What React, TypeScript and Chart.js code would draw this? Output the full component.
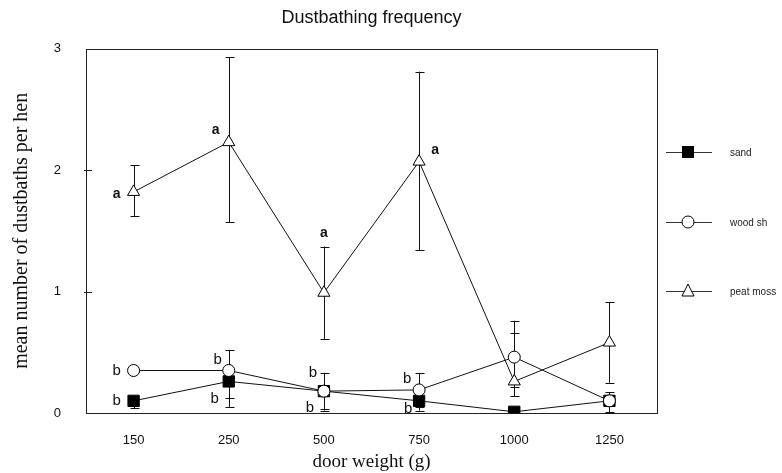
import React, { useEffect, useRef } from 'react';
import { Chart, registerables } from 'chart.js';

Chart.register(...registerables);

const categories = ['150', '250', '500', '750', '1000', '1250'];
const seriesNames = ['sand', 'wood sh', 'peat moss'];

const sand = [0.1, 0.26, 0.18, 0.1, 0.01, 0.1];
const woodSh = [0.35, 0.35, 0.18, 0.19, 0.46, 0.1];
const peatMoss = [1.82, 2.23, 0.99, 2.07, 0.26, 0.58];

const sandHi = [0.12, 0.3, 0.21, 0.13, 0.03, 0.17];
const sandLo = [0.04, 0.12, 0.02, 0.02, 0.0, 0.01];
const woodHi = [0.36, 0.52, 0.33, 0.33, 0.66, 0.12];
const woodLo = [0.34, 0.05, 0.03, 0.05, 0.21, 0.0];
const peatHi = [2.04, 2.93, 1.37, 2.81, 0.76, 0.91];
const peatLo = [1.62, 1.57, 0.61, 1.34, 0.14, 0.25];

const sandLetters = ['b', 'b', 'b', 'b', '', ''];
const woodLetters = ['b', 'b', 'b', 'b', '', ''];
const peatLetters = ['a', 'a', 'a', 'a', '', ''];

const yTicks = [0, 1, 2, 3];

// label placement offsets (style, not data)
const letterOffsets: Record<string, [number, number][]> = {
  sand: [[-17, 0], [-14, 17], [-14, 17], [-11, 8], [0, 0], [0, 0]],
  wood: [[-17, 0], [-11, -11], [-11, -18], [-12, -11], [0, 0], [0, 0]],
  peat: [[-17, 2], [-13, -12], [0, -60], [16, -11], [0, 0], [0, 0]],
};

function drawMarker(ctx: CanvasRenderingContext2D, kind: string, x: number, y: number) {
  ctx.save();
  ctx.lineWidth = 1;
  ctx.strokeStyle = '#000';
  if (kind === 'rect') {
    ctx.fillStyle = '#000';
    ctx.fillRect(x - 6, y - 6, 12, 12);
  } else if (kind === 'circle') {
    ctx.fillStyle = '#fff';
    ctx.beginPath();
    ctx.arc(x, y, 6, 0, Math.PI * 2);
    ctx.fill();
    ctx.stroke();
  } else {
    ctx.fillStyle = '#fff';
    ctx.beginPath();
    ctx.moveTo(x, y - 7);
    ctx.lineTo(x + 6, y + 5);
    ctx.lineTo(x - 6, y + 5);
    ctx.closePath();
    ctx.fill();
    ctx.stroke();
  }
  ctx.restore();
}

const decorPlugin = {
  id: 'decor',
  beforeDatasetsDraw(chart: any) {
    const { ctx, chartArea, scales } = chart;
    const x = scales.x;
    const y = scales.y;
    ctx.save();
    // frame
    ctx.strokeStyle = '#222';
    ctx.lineWidth = 1;
    ctx.strokeRect(Math.round(chartArea.left) + 0.5, Math.round(chartArea.top) + 0.5,
      Math.round(chartArea.right - chartArea.left), Math.round(chartArea.bottom - chartArea.top));
    // inner y tick marks
    yTicks.forEach((t) => {
      if (t === 0 || t === 3) return;
      const py = Math.round(y.getPixelForValue(t)) + 0.5;
      ctx.beginPath();
      ctx.moveTo(chartArea.left - 2, py);
      ctx.lineTo(chartArea.left + 6, py);
      ctx.stroke();
    });
    // error bars
    const bars = [
      [sandHi, sandLo],
      [woodHi, woodLo],
      [peatHi, peatLo],
    ];
    ctx.strokeStyle = '#111';
    bars.forEach(([hi, lo]) => {
      categories.forEach((_, i) => {
        const px = Math.round(x.getPixelForValue(i)) + 0.5;
        const top = y.getPixelForValue(hi[i]);
        const bot = y.getPixelForValue(lo[i]);
        ctx.beginPath();
        ctx.moveTo(px, top);
        ctx.lineTo(px, bot);
        ctx.moveTo(px - 4, Math.round(top) + 0.5);
        ctx.lineTo(px + 5, Math.round(top) + 0.5);
        ctx.moveTo(px - 4, Math.round(bot) + 0.5);
        ctx.lineTo(px + 5, Math.round(bot) + 0.5);
        ctx.stroke();
      });
    });
    ctx.restore();
  },
  afterDatasetsDraw(chart: any) {
    const { ctx, scales } = chart;
    const x = scales.x;
    const y = scales.y;
    ctx.save();
    ctx.fillStyle = '#111';
    ctx.textAlign = 'center';
    ctx.textBaseline = 'middle';
    const groups: [string[], number[], [number, number][], string][] = [
      [sandLetters, sand, letterOffsets.sand, '15px "Liberation Sans"'],
      [woodLetters, woodSh, letterOffsets.wood, '15px "Liberation Sans"'],
      [peatLetters, peatMoss, letterOffsets.peat, 'bold 14px "Liberation Sans"'],
    ];
    groups.forEach(([letters, vals, offs, font]) => {
      ctx.font = font;
      letters.forEach((l, i) => {
        if (!l) return;
        const px = x.getPixelForValue(i) + offs[i][0];
        const py = y.getPixelForValue(vals[i]) + offs[i][1];
        ctx.fillText(l, px, py);
      });
    });
    // legend
    const kinds = ['rect', 'circle', 'triangle'];
    const rows = [152, 222, 291];
    ctx.textAlign = 'left';
    ctx.font = '10px "Liberation Sans"';
    seriesNames.forEach((name, i) => {
      const ry = rows[i] + 0.5;
      ctx.strokeStyle = '#333';
      ctx.lineWidth = 1;
      ctx.beginPath();
      ctx.moveTo(666, ry);
      ctx.lineTo(712, ry);
      ctx.stroke();
      drawMarker(ctx, kinds[i], 688, rows[i]);
      ctx.fillStyle = '#222';
      ctx.fillText(name, 730, rows[i] + 1);
    });
    ctx.restore();
  },
};

export default function App() {
  const ref = useRef<HTMLCanvasElement | null>(null);
  useEffect(() => {
    if (!ref.current) return;
    const mk = (data: number[], style: string, bg: string) => ({
      data,
      borderColor: '#111',
      borderWidth: 1,
      backgroundColor: bg,
      pointStyle: style,
      pointRadius: style === 'rect' ? 8 : style === 'circle' ? 6 : 7,
      pointBorderColor: '#000',
      pointBorderWidth: 1,
      pointBackgroundColor: bg,
      tension: 0,
      fill: false,
    });
    const chart = new Chart(ref.current, {
      type: 'line',
      data: {
        labels: categories,
        datasets: [
          { label: seriesNames[2], ...mk(peatMoss, 'triangle', '#fff') },
          { label: seriesNames[1], ...mk(woodSh, 'circle', '#fff') },
          { label: seriesNames[0], ...mk(sand, 'rect', '#000') },
        ] as any,
      },
      options: {
        responsive: false,
        animation: false,
        layout: { padding: { left: 0, right: 125, top: 0, bottom: 0 } },
        plugins: {
          legend: { display: false },
          tooltip: { enabled: false },
          title: {
            display: true,
            text: 'Dustbathing frequency',
            color: '#111',
            font: { family: '"Liberation Sans", Arial, sans-serif', size: 18, weight: 'normal' },
            padding: { top: 7, bottom: 20 },
            fullSize: false,
          },
        },
        scales: {
          x: {
            type: 'category',
            offset: true,
            grid: { display: false, drawTicks: false },
            border: { display: false },
            ticks: {
              color: '#111',
              padding: 20,
              font: { family: '"Liberation Sans", Arial, sans-serif', size: 13 },
            },
            title: {
              display: true,
              text: 'door weight (g)',
              color: '#111',
              font: { family: '"Liberation Serif", "Times New Roman", serif', size: 19 },
              padding: { top: 2, bottom: 0 },
            },
            afterFit: (s: any) => { s.height = 60; },
          },
          y: {
            min: 0,
            max: 3,
            grid: { display: false, drawTicks: false },
            border: { display: false },
            ticks: {
              stepSize: 1,
              color: '#111',
              padding: 25,
              font: { family: '"Liberation Sans", Arial, sans-serif', size: 13 },
              callback: (v: any) => (yTicks.includes(Number(v)) ? String(v) : ''),
            },
            title: {
              display: true,
              text: 'mean number of dustbaths per hen',
              color: '#111',
              font: { family: '"Liberation Serif", "Times New Roman", serif', size: 20 },
              padding: { top: 10, bottom: 0 },
            },
            afterFit: (s: any) => { s.width = 86; },
          },
        },
      },
      plugins: [decorPlugin],
    });
    return () => chart.destroy();
  }, []);
  return (
    <div style={{ position: 'absolute', left: 0, top: 0, width: 782, height: 473, background: '#fff' }}>
      <canvas ref={ref} width={782} height={473} style={{ width: 782, height: 473 }} />
    </div>
  );
}
